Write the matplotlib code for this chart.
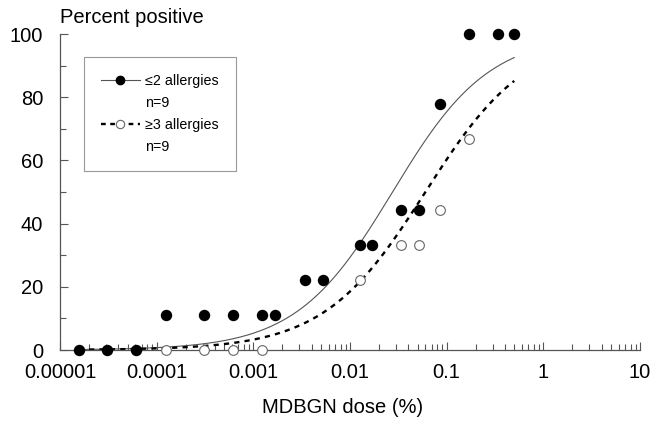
import numpy as np
import matplotlib
matplotlib.use("Agg")
import matplotlib.pyplot as plt
from matplotlib.lines import Line2D
from matplotlib.ticker import LogLocator, FixedLocator, FuncFormatter

plt.rcParams['font.family'] = ['Liberation Sans', 'DejaVu Sans']

# ---- data ----
dose_low = [1.56e-5, 3.1e-5, 6.1e-5, 1.24e-4, 3.1e-4, 6.2e-4, 1.24e-3, 1.68e-3,
            3.4e-3, 5.2e-3, 0.0126, 0.0169, 0.0334, 0.0516, 0.085, 0.17, 0.34, 0.5]
pct_low = [0, 0, 0, 11.1, 11.1, 11.1, 11.1, 11.1, 22.2, 22.2, 33.3, 33.3,
           44.4, 44.4, 77.8, 100, 100, 100]

dose_high = [1.24e-4, 3.1e-4, 6.2e-4, 1.24e-3, 0.0126, 0.0334, 0.0516, 0.085, 0.17]
pct_high = [0, 0, 0, 0, 22.2, 33.3, 33.3, 44.4, 66.7]

# fitted logistic dose-response curves (log10 ED50, slope per decade)
fit_low = (-1.56, 2.0)
fit_high = (-1.22, 1.9)
fit_range = (1.56e-5, 0.5)

label_low = "\u22642 allergies"
label_high = "\u22653 allergies"
n_label = "n=9"

x_ticks = [1e-5, 1e-4, 1e-3, 1e-2, 1e-1, 1, 10]
x_ticklabels = ["0.00001", "0.0001", "0.001", "0.01", "0.1", "1", "10"]
y_ticks = [0, 20, 40, 60, 80, 100]


def logistic(x, params):
    m, s = params
    return 100.0 / (1.0 + np.exp(-s * (np.log10(x) - m)))


fig = plt.figure(figsize=(6.55, 4.23), dpi=100)
ax = fig.add_axes([60 / 655, 73 / 423, 580 / 655, 316 / 423])

xc = np.logspace(np.log10(fit_range[0]), np.log10(fit_range[1]), 300)
ax.plot(xc, logistic(xc, fit_low), color='#555555', lw=0.8, zorder=2)
ax.plot(xc, logistic(xc, fit_high), color='black', lw=1.7, ls=(0, (2.2, 2.2)), zorder=2)

ax.plot(dose_high, pct_high, 'o', ms=7, mfc='white', mec='#666666', mew=0.8,
        clip_on=False, zorder=3)
ax.plot(dose_low, pct_low, 'o', ms=7.2, mfc='black', mec='black',
        clip_on=False, zorder=4)

ax.set_xscale('log')
ax.set_xlim(1e-5, 10)
ax.set_ylim(0, 100)

for s in ['top', 'right']:
    ax.spines[s].set_visible(False)
for s in ['left', 'bottom']:
    ax.spines[s].set_color('#555555')
    ax.spines[s].set_linewidth(0.9)

ax.set_xticks(x_ticks)
ax.set_xticklabels(x_ticklabels)
ax.xaxis.set_minor_locator(LogLocator(base=10, subs=np.arange(2, 10)))
ax.xaxis.set_minor_formatter(FuncFormatter(lambda v, p: ""))
ax.set_yticks(y_ticks)
ax.yaxis.set_minor_locator(FixedLocator([10, 30, 50, 70, 90]))

ax.tick_params(axis='both', which='major', direction='in', length=6, width=0.8,
               color='#555555', labelsize=14.5)
ax.tick_params(axis='both', which='minor', direction='in', length=4, width=0.8,
               color='#555555')
ax.tick_params(axis='y', which='major', pad=12)
ax.tick_params(axis='x', which='major', pad=9)

ax.text(0.0, 1.035, "Percent positive", transform=ax.transAxes, fontsize=14.5,
        ha='left', va='baseline')
fig.text(343 / 655, 10 / 423, "MDBGN dose (%)", fontsize=14.5, ha='center', va='baseline')

h_low = Line2D([], [], color='#555555', lw=0.8, marker='o', ms=6,
               mfc='black', mec='black')
h_high = Line2D([], [], color='black', lw=1.7, ls=(0, (2.0, 1.9)), marker='o',
                ms=6, mfc='white', mec='#666666', mew=0.8)
blank = Line2D([], [], color='none')
leg = ax.legend([h_low, blank, h_high, blank],
                [label_low, n_label, label_high, n_label],
                loc='upper left', bbox_to_anchor=(0.041, 0.927), borderaxespad=0,
                fontsize=10.3, numpoints=1, handlelength=2.7, handletextpad=0.4,
                labelspacing=0.55, borderpad=1.2, fancybox=False, framealpha=1)
leg.get_frame().set_edgecolor('#999999')
leg.get_frame().set_linewidth(0.8)

fig.savefig("out.png", dpi=100)
